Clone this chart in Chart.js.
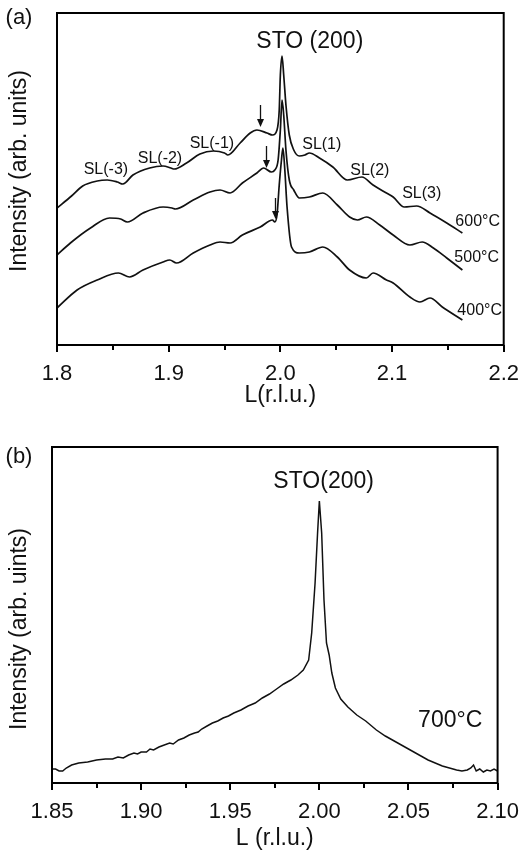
<!DOCTYPE html>
<html><head><meta charset="utf-8">
<script src="https://cdn.jsdelivr.net/npm/chart.js@4.4.1/dist/chart.umd.min.js"></script>
<style>
html,body{margin:0;padding:0;background:#fff;}
#wrap{position:relative;width:527px;height:852px;}
#c1{position:absolute;left:0;top:0;}
#c2{position:absolute;left:0;top:420px;}
</style></head><body>
<div id="wrap">
<canvas id="c1" width="527" height="420"></canvas>
<canvas id="c2" width="527" height="432"></canvas>
</div>
<script>
// ---------- Panel (a) data: L (r.l.u.) and intensity (arb. units) ----------
const L600 = [1.800,1.813,1.823,1.836,1.845,1.854,1.859,1.868,1.883,1.895,1.902,1.905,1.916,1.928,1.940,1.950,1.953,1.964,1.973,1.979,1.988,1.993,1.997,1.999,2.000,2.0015,2.003,2.005,2.008,2.012,2.017,2.022,2.026,2.035,2.047,2.060,2.073,2.083,2.095,2.101,2.111,2.122,2.134,2.149,2.163];
const I600 = [137,149,159,164,165,163,161,170,177,179,177,176,182,191,194,192,190,202,212,215,212,210,215,235,270,289,270,240,210,195,189,190,192,187,178,165,168,160,152,148,138,139,132,122,112];

const L500 = [1.800,1.812,1.830,1.847,1.857,1.863,1.877,1.895,1.903,1.906,1.922,1.937,1.946,1.955,1.966,1.979,1.985,1.992,1.995,1.998,2.000,2.0015,2.003,2.005,2.008,2.012,2.017,2.026,2.038,2.051,2.062,2.069,2.077,2.089,2.101,2.116,2.127,2.137,2.149,2.163];
const I500 = [90,102,117,127,126,123,132,138,137,136,145,153,155,152,162,172,177,173,175,185,215,245,230,195,165,155,147,148,152,140,128,125,128,120,110,100,103,97,87,75];

const L400 = [1.800,1.818,1.836,1.855,1.865,1.877,1.895,1.901,1.907,1.922,1.937,1.946,1.955,1.966,1.982,1.993,1.995,1.997,1.999,2.001,2.0023,2.004,2.006,2.010,2.017,2.026,2.038,2.051,2.062,2.077,2.083,2.095,2.101,2.116,2.125,2.134,2.145,2.163];
const I400 = [37,55,65,72,68,75,83,85,82,92,100,103,102,110,118,125,123,130,160,185,197,175,138,98,92,93,98,88,75,67,72,65,62,48,43,47,38,25];

// ---------- Panel (b) data ----------
const L700 = [1.850,1.852,1.854,1.856,1.858,1.861,1.865,1.870,1.875,1.880,1.884,1.887,1.890,1.893,1.896,1.898,1.900,1.903,1.905,1.907,1.910,1.913,1.916,1.918,1.921,1.924,1.927,1.930,1.932,1.934,1.937,1.940,1.943,1.946,1.949,1.952,1.956,1.960,1.964,1.968,1.972,1.976,1.980,1.984,1.988,1.991,1.994,1.9957,1.9976,1.999,2.000,2.0013,2.0026,2.004,2.0055,2.007,2.009,2.012,2.016,2.021,2.026,2.032,2.037,2.043,2.048,2.052,2.057,2.061,2.065,2.069,2.073,2.077,2.080,2.083,2.085,2.0865,2.088,2.090,2.092,2.094,2.096,2.098,2.100];
const I700 = [14,14,12,12,15,18,20,21,23,24,24,26,25,28,30,29,31,31,34,33,36,38,40,39,43,45,48,50,51,54,57,60,62,65,67,70,73,77,80,85,89,94,99,103,108,113,123,150,200,250,282,250,183,140,128,110,95,84,76,68,62,53,47,41,36,32,27,23,20,17,15,13,12,13,15,18,12,14,11,13,12,14,12];

// ---------- Axis ranges / tick labels ----------
const xRangeA = [1.8, 2.2];
const xStepA = 0.1;
const xRangeB = [1.85, 2.10];
const xStepB = 0.05;
const seriesNamesA = ['600°C', '500°C', '400°C'];
const seriesNameB = '700°C';

const FONT = "'Liberation Sans', Arial, Helvetica, sans-serif";
const INK = '#111';

function pts(xs, ys){ return xs.map((v,i)=>({x:v, y:ys[i]})); }

// Frame box + outward x ticks (major and minor)
const framePlugin = {
  id: 'frame',
  afterDraw(chart, args, opts){
    const {ctx, chartArea:{left,right,top,bottom}, scales:{x}} = chart;
    ctx.save();
    ctx.strokeStyle = '#000';
    ctx.lineWidth = 2;
    ctx.strokeRect(left, top, right-left, bottom-top);
    const minor = opts.step/2;
    const n = Math.round((x.max - x.min)/minor);
    for (let i=0;i<=n;i++){
      const v = x.min + i*minor;
      const px = Math.round(x.getPixelForValue(v));
      const len = (i%2===0) ? 7 : 5;
      ctx.beginPath();
      ctx.moveTo(px, bottom);
      ctx.lineTo(px, bottom+len);
      ctx.stroke();
    }
    ctx.restore();
  }
};

// Text labels and arrows placed in data coordinates; axis/panel captions
const annotPlugin = {
  id: 'annot',
  afterDraw(chart, args, opts){
    const {ctx, scales:{x,y}, chartArea} = chart;
    ctx.save();
    ctx.fillStyle = INK;
    ctx.textAlign = 'center';
    ctx.textBaseline = 'middle';
    (opts.texts||[]).forEach(t=>{
      ctx.font = t.size + 'px ' + FONT;
      ctx.fillText(t.text, x.getPixelForValue(t.x), y.getPixelForValue(t.y));
    });
    (opts.panel||[]).forEach(t=>{
      ctx.font = t.size + 'px ' + FONT;
      ctx.fillText(t.text, t.px, t.py);
    });
    if (opts.ytitle){
      const t = opts.ytitle;
      ctx.font = t.size + 'px ' + FONT;
      ctx.save();
      ctx.translate(t.px, (chartArea.top + chartArea.bottom)/2 + t.shift);
      ctx.rotate(-Math.PI/2);
      ctx.fillText(t.text, 0, 0);
      ctx.restore();
    }
    ctx.strokeStyle = INK;
    ctx.lineWidth = 1.3;
    (opts.arrows||[]).forEach(a=>{
      const px = Math.round(x.getPixelForValue(a.x)) + 0.5;
      const yTip = y.getPixelForValue(a.tip);
      const yTail = y.getPixelForValue(a.tail);
      ctx.beginPath();
      ctx.moveTo(px, yTail);
      ctx.lineTo(px, yTip - 6);
      ctx.stroke();
      ctx.beginPath();
      ctx.moveTo(px - 3.5, yTip - 8);
      ctx.lineTo(px + 3.5, yTip - 8);
      ctx.lineTo(px, yTip);
      ctx.closePath();
      ctx.fill();
    });
    ctx.restore();
  }
};

const lineStyle = {borderColor: INK, borderWidth: 1.7, pointRadius: 0, fill: false, cubicInterpolationMode: 'monotone'};

function xScale(range, step, dec, title, height, titlePad){
  return {
    type: 'linear', min: range[0], max: range[1],
    grid: {display: false}, border: {display: false},
    ticks: {stepSize: step, padding: 8, color: INK, font: {family: FONT, size: 22}, maxRotation: 0, autoSkip: false,
            callback: v => Number(v).toFixed(dec)},
    title: {display: true, text: title, color: INK, font: {family: FONT, size: 23}, padding: {top: 0, bottom: titlePad}},
    afterFit: s => { s.height = height; }
  };
}
function yScale(max, width){
  return {
    type: 'linear', min: 0, max: max,
    grid: {display: false}, border: {display: false},
    ticks: {display: false},
    afterFit: s => { s.width = width; }
  };
}

// ---------- Chart (a) ----------
new Chart(document.getElementById('c1'), {
  type: 'line',
  data: {datasets: [
    Object.assign({label: seriesNamesA[0], data: pts(L600, I600)}, lineStyle),
    Object.assign({label: seriesNamesA[1], data: pts(L500, I500)}, lineStyle),
    Object.assign({label: seriesNamesA[2], data: pts(L400, I400)}, lineStyle)
  ]},
  options: {
    responsive: false, animation: false, devicePixelRatio: 1,
    layout: {padding: {left: 0, right: 23, top: 13, bottom: 0}},
    plugins: {
      legend: {display: false}, tooltip: {enabled: false},
      frame: {step: xStepA},
      annot: {
        texts: [
          {text: 'STO (200)', x: 2.0264, y: 303, size: 23},
          {text: 'SL(-3)', x: 1.8438, y: 175, size: 16},
          {text: 'SL(-2)', x: 1.8922, y: 186, size: 16},
          {text: 'SL(-1)', x: 1.9387, y: 201, size: 16},
          {text: 'SL(1)', x: 2.0371, y: 200, size: 16},
          {text: 'SL(2)', x: 2.0801, y: 174, size: 16},
          {text: 'SL(3)', x: 2.1266, y: 151, size: 16},
          {text: seriesNamesA[0], x: 2.1767, y: 123, size: 16},
          {text: seriesNamesA[1], x: 2.1758, y: 87, size: 16},
          {text: seriesNamesA[2], x: 2.1785, y: 34, size: 16}
        ],
        arrows: [
          {x: 1.9817, tip: 218, tail: 240},
          {x: 1.9870, tip: 177, tail: 199},
          {x: 1.9951, tip: 126, tail: 147}
        ],
        panel: [{text: '(a)', px: 19, py: 18, size: 22}],
        ytitle: {text: 'Intensity (arb. units)', px: 20, shift: -8, size: 23}
      }
    },
    scales: {
      x: xScale(xRangeA, xStepA, 1, 'L(r.l.u.)', 75, 11),
      y: yScale(332, 57)
    }
  },
  plugins: [framePlugin, annotPlugin]
});

// ---------- Chart (b) ----------
new Chart(document.getElementById('c2'), {
  type: 'line',
  data: {datasets: [
    Object.assign({label: seriesNameB, data: pts(L700, I700)}, lineStyle, {cubicInterpolationMode: 'default', tension: 0, borderWidth: 1.5})
  ]},
  options: {
    responsive: false, animation: false, devicePixelRatio: 1,
    layout: {padding: {left: 0, right: 24, top: 27, bottom: 0}},
    plugins: {
      legend: {display: false}, tooltip: {enabled: false},
      frame: {step: xStepB},
      annot: {
        texts: [
          {text: 'STO(200)', x: 2.0024, y: 301, size: 23},
          {text: seriesNameB, x: 2.0734, y: 62, size: 23}
        ],
        panel: [{text: '(b)', px: 19, py: 37, size: 22}],
        ytitle: {text: 'Intensity (arb. uints)', px: 20, shift: 14, size: 23}
      }
    },
    scales: {
      x: xScale(xRangeB, xStepB, 2, 'L (r.l.u.)', 69, 0),
      y: yScale(336, 52)
    }
  },
  plugins: [framePlugin, annotPlugin]
});
</script>
</body></html>
